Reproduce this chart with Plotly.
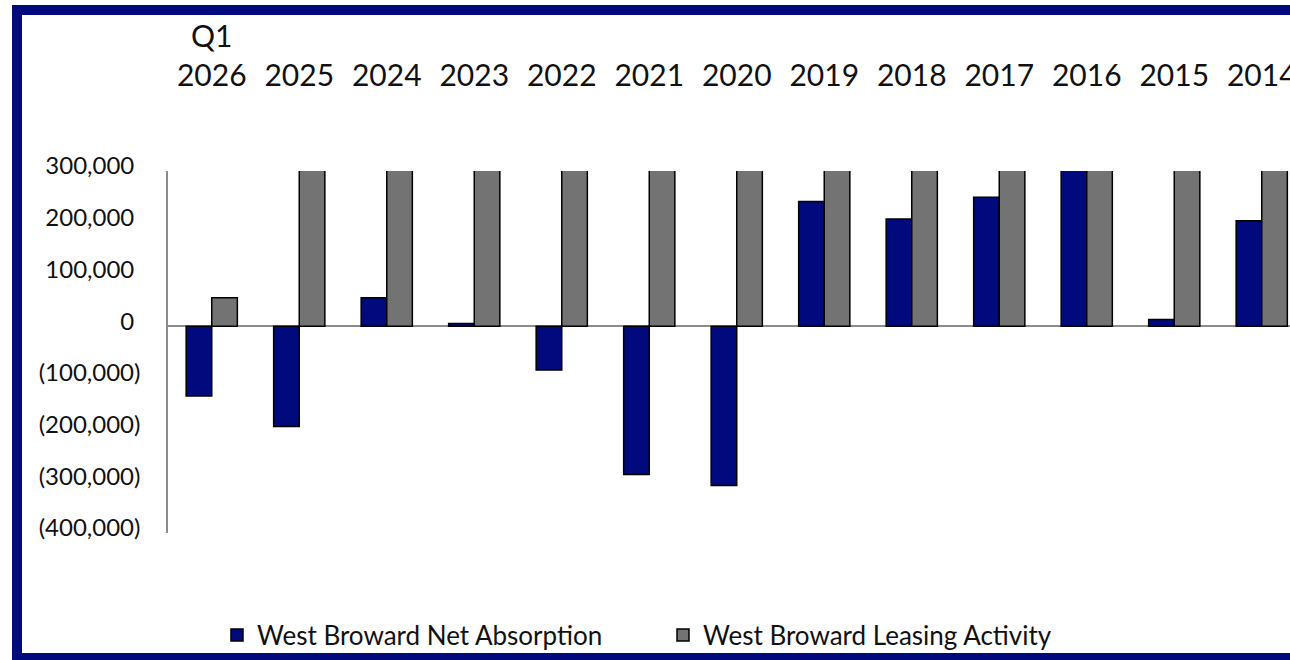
import plotly.graph_objects as go

# ---------------- data ----------------
categories = ["Q1 2026", "2025", "2024", "2023", "2022", "2021", "2020",
              "2019", "2018", "2017", "2016", "2015", "2014"]
category_labels = ["Q1<br>2026", "2025", "2024", "2023", "2022", "2021", "2020",
                   "2019", "2018", "2017", "2016", "2015", "2014"]
net_absorption = [-135000, -194000, 55000, 5000, -85000, -287000, -308000,
                  241000, 207000, 249000, 320000, 13000, 204000]
# leasing activity exceeds the 300,000 axis maximum for most years (clipped in chart)
leasing_activity = [55000, 950000, 1000000, 900000, 1050000, 850000, 800000,
                    1100000, 1150000, 1200000, 1250000, 1000000, 1100000]
y_tick_values = [300000, 200000, 100000, 0, -100000, -200000, -300000, -400000]
y_tick_labels = ["300,000\u00a0", "200,000\u00a0", "100,000\u00a0", "0\u00a0",
                 "(100,000)", "(200,000)", "(300,000)", "(400,000)"]
series_names = ["West Broward Net Absorption", "West Broward Leasing Activity"]

# ---------------- style ----------------
NAVY = "#000a7c"
GRAY = "#737373"
AXIS_GRAY = "#8c8c8c"
FONT = "Lato"
TEXT = "#111111"

W, H = 1290, 660
ML, MR, MT, MB = 168, 0, 171, 127
PW, PH = W - ML - MR, H - MT - MB
CAT_SPACING = 87.5  # px per category


def px_x(px):
    return (px - ML) / PW


def px_y(py):
    return (H - MB - py) / PH


fig = go.Figure()
fig.add_trace(go.Bar(
    x=categories, y=net_absorption, name=series_names[0],
    marker=dict(color=NAVY, line=dict(color="#000000", width=1.5)),
))
fig.add_trace(go.Bar(
    x=categories, y=leasing_activity, name=series_names[1],
    marker=dict(color=GRAY, line=dict(color="#000000", width=1.5)),
))

# navy frame (left, top, bottom)
frame = [
    (12, 5, 22, 660),
    (12, 5, 1290, 15),
    (12, 653, 1290, 660),
]
shapes = []
for x0, y0, x1, y1 in frame:
    shapes.append(dict(type="rect", xref="paper", yref="paper",
                       x0=px_x(x0), x1=px_x(x1), y0=px_y(y1), y1=px_y(y0),
                       fillcolor=NAVY, line=dict(width=0), layer="above"))

fig.update_layout(
    width=W, height=H,
    margin=dict(l=ML, r=MR, t=MT, b=MB, pad=0, autoexpand=False),
    paper_bgcolor="white", plot_bgcolor="white",
    barmode="group", bargap=0.415, bargroupgap=0,
    font=dict(family=FONT, color=TEXT),
    shapes=shapes,
    showlegend=True,
    legend=dict(orientation="h", x=px_x(217), xanchor="left",
                y=px_y(635), yanchor="middle",
                font=dict(family=FONT, size=26, color=TEXT),
                entrywidth=401, entrywidthmode="pixels",
                bgcolor="rgba(0,0,0,0)", traceorder="normal"),
    xaxis=dict(type="category", side="top",
               range=[-0.5, -0.5 + PW / CAT_SPACING],
               showline=False, showgrid=False, ticks="",
               tickvals=categories, ticktext=category_labels,
               tickfont=dict(family=FONT, size=30, color=TEXT),
               ticklabelstandoff=78, automargin=False),
    yaxis=dict(range=[-400000, 300000],
               showline=True, linecolor=AXIS_GRAY, linewidth=1.5,
               zeroline=True, zerolinecolor=AXIS_GRAY, zerolinewidth=1.5,
               showgrid=False, ticks="",
               tickvals=y_tick_values, ticktext=y_tick_labels,
               tickfont=dict(family=FONT, size=24, color=TEXT),
               ticklabelstandoff=21, ticklabelshift=-5, automargin=False),
)

fig.write_html("out.html")
